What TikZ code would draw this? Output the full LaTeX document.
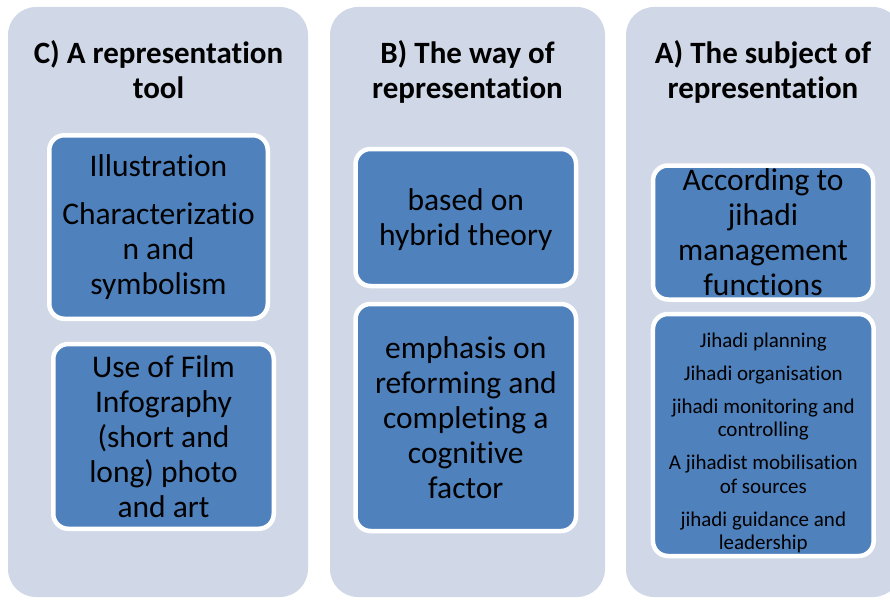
\documentclass[tikz,border=0pt]{standalone}
\usepackage{fontspec}
\setmainfont{Carlito}[Ligatures=NoCommon, RawFeature=-liga]
\definecolor{panelgray}{RGB}{208,216,232}
\definecolor{cellblue}{RGB}{79,129,189}

\begin{document}
\begin{tikzpicture}
  [x=1pt, y=-1pt,
     panel/.style={shape=rectangle,
                  rounded corners=28pt,
                  fill=panelgray,
                  minimum height=590pt,
                  inner sep=0pt},
     cell/.style={shape=rectangle,
                  rounded corners=15pt,
                  draw=white,
                  line width=4.5pt,
                  fill=cellblue,
                  inner sep=0pt},
     head/.style={align=center,
                  inner sep=0pt,
                  anchor=north,
                  font=\fontsize{31}{35}\selectfont\bfseries},
     big/.style={align=center,
                  inner sep=0pt,
                  font=\fontsize{31.5}{35}\selectfont},
     small/.style={align=center,
                  inner sep=0pt,
                  font=\fontsize{21}{23.5}\selectfont}
  ]
    \clip (0,0) rectangle (890,599);
    % the three columns
    \foreach \n/\x/\w in {C/158/300, B/467.5/275, A/763.5/275}{
        \node[panel, minimum width=\w] (pan\n) at (\x,302) {};
    }
    \node[head] (headC) at (158.5,40) {C) A representation\\tool};
    \node[head] (headB) at (467.5,40) {B) The way of\\representation};
    \node[head] (headA) at (763,40) {A) The subject of\\representation};

    % C) tool
    \node[cell, minimum width=218.5, minimum height=183.5] (cellC1) at (158.5,227) {};
    \node[cell, minimum width=220.5, minimum height=184.75] (cellC2) at (163.5,436.4) {};
    \node[big] (txtC1) at (cellC1) {Illustration\\[12.5pt]Characterizatio\\n and\\symbolism};
    \node[big] (txtC2) at (cellC2) {Use of Film\\Infography\\(short and\\long) photo\\and art};

    % B) way
    \node[cell, minimum width=220.5, minimum height=137] (cellB1) at (465.8,217.5) {};
    \node[cell, minimum width=220.5, minimum height=227] (cellB2) at (465.8,417.5) {};
    \node[big, yshift=-2.5pt] (txtB1) at (cellB1) {based on\\hybrid theory};
    \node[big] (txtB2) at (cellB2) {emphasis on\\reforming and\\completing a\\cognitive\\factor};

    % A) subject
    \node[cell, minimum width=220, minimum height=134] (cellA1) at (763,232.5) {};
    \node[cell, minimum width=220.7, minimum height=242] (cellA2) at (763.3,435) {};
    \node[big] (txtA1) at (cellA1) {According to\\jihadi\\management\\functions};
    \node[small, yshift=-8pt] (txtA2) at (cellA2) {Jihadi planning\\[9.5pt]Jihadi organisation\\[9.5pt]%
        jihadi monitoring and\\controlling\\[9.5pt]A jihadist mobilisation\\of sources\\[9.5pt]%
        jihadi guidance and\\leadership};
\end{tikzpicture}
\end{document}
